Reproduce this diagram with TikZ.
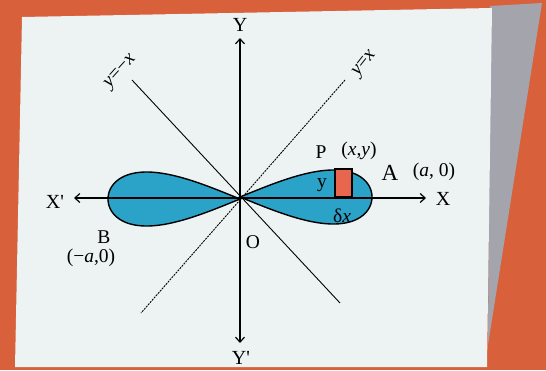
\documentclass[tikz,border=0pt]{standalone}
\usepackage{fontspec}
\setmainfont{Liberation Serif}
\usetikzlibrary{arrows.meta}
\definecolor{bgorange}{HTML}{D8603A}
\definecolor{paper}{HTML}{EDF2F2}
\definecolor{strip}{HTML}{A3A4AC}
\definecolor{lobe}{HTML}{2BA2C8}
\definecolor{rectred}{HTML}{E8654E}
\tikzset{
  axis/.style={line width=1.2pt,-{Straight Barb[length=5pt,width=9pt,line width=1.2pt]}},
  lobestyle/.style={fill=lobe,draw=black,line width=1.4pt},
  diagsolid/.style={line width=0.9pt},
  diagdash/.style={line width=0.9pt,dash pattern=on 2pt off 1pt},
  big/.style={font=\fontsize{20}{20}\selectfont,inner sep=0pt},
  lab/.style={font=\fontsize{19.5}{20}\selectfont,inner sep=0pt}
}
\begin{document}
\begin{tikzpicture}[x=1pt,y=-1pt]
\useasboundingbox (0,0) rectangle (546,370);
% background
\fill[bgorange] (0,0) rectangle (546,370);
\fill[strip] (490,6) -- (542,3) -- (488,345) -- cycle;
\fill[paper] (22,17) -- (492,8) -- (487,367) -- (15,367) -- cycle;
% named points
\coordinate (O) at (240,198);
\coordinate (Xl) at (74,198);
\coordinate (Xr) at (426,198);
\coordinate (Yt) at (240,38);
\coordinate (Yb) at (240,343);
\coordinate (d1a) at (132,80);
\coordinate (d1b) at (340,303);
\coordinate (d2a) at (345,80);
\coordinate (d2b) at (141,313);
% diagonals
\draw[diagsolid] (d1a) -- (d1b);
\draw[diagdash] (d2a) -- (d2b);
% lobes
\draw[lobestyle] plot[domain=-90:90,samples=121,smooth] ({240+132*cos(\x)},{197-27*sin(2*\x)}) -- cycle;
\draw[lobestyle] plot[domain=-90:90,samples=121,smooth] ({240-132*cos(\x)},{199-27*sin(2*\x)}) -- cycle;
% strip
\draw[fill=rectred,line width=1.1pt] (335,169) rectangle (352,197);
% axes
\draw[axis] (O) -- (Xr);
\draw[axis] (O) -- (Xl);
\draw[axis] (O) -- (Yt);
\draw[axis] (O) -- (Yb);
% labels
\node[big] (lY) at (240,25) {Y};
\node[big] (lYp) at (241,358) {Y\textquotesingle};
\node[big] (lX) at (443,199) {X};
\node[big] (lXp) at (55,202) {X\textquotesingle};
\node[lab] (lO) at (253,242) {O};
\node[lab] (lB) at (104,237) {B};
\node[lab] (lBc) at (91,258) {(−{\itshape a},0)};
\node[lab] (lP) at (321,152) {P};
\node[lab] (lPc) at (359,151) {({\itshape x},{\itshape y})};
\node[font=\fontsize{23}{23}\selectfont,inner sep=0pt] (lA) at (390,173) {A};
\node[lab] (lAc) at (434,172) {({\itshape a}, 0)};
\node[lab] (ly) at (322,185) {y};
\node[lab] (ldx) at (342,216) {δ{\itshape x}};
\node[lab,rotate=48] (l1) at (121,72) {{\itshape y}=−{\itshape x}};
\node[lab,rotate=52] (l2) at (365,64) {{\itshape y}={\itshape x}};
\end{tikzpicture}
\end{document}
